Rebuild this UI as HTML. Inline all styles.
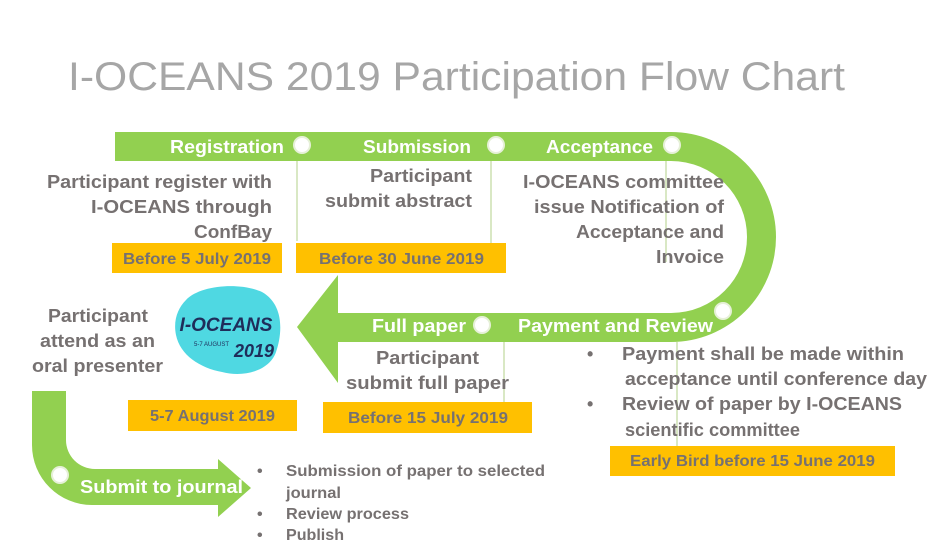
<!DOCTYPE html>
<html><head><meta charset="utf-8"><style>
html,body{margin:0;padding:0;background:#fff;}
svg{display:block;}
text{font-family:"Liberation Sans",sans-serif;}
.b{font-weight:bold;fill:#767171;font-size:18px;}
.w{font-weight:bold;fill:#fff;font-size:18px;}
.s{font-weight:bold;fill:#767171;font-size:16px;}
</style></head><body>
<svg width="948" height="552" viewBox="0 0 948 552" xmlns="http://www.w3.org/2000/svg">
<rect width="948" height="552" fill="#fff"/>
<text x="68" y="90" font-size="40" fill="#a6a6a6" textLength="777" lengthAdjust="spacingAndGlyphs">I-OCEANS 2019 Participation Flow Chart</text>

<path d="M115 132 H671 A105 105 0 0 1 671 342 H338 V383 L297 327 L338 275 V313 H671 A76 76 0 0 0 671 161 H115 Z" fill="#92d050"/>
<g stroke="#d9e8c4" stroke-width="2">
<line x1="297" y1="161" x2="297" y2="241"/>
<line x1="491" y1="161" x2="491" y2="243"/>
<line x1="666" y1="161" x2="666" y2="262"/>
<line x1="504" y1="342" x2="504" y2="402"/>
<line x1="677" y1="342" x2="677" y2="446"/>
</g>
<g fill="#fff" stroke="#e6f0d8" stroke-width="2">
<circle cx="302" cy="145" r="8"/>
<circle cx="496" cy="145" r="8"/>
<circle cx="672" cy="145" r="8"/>
<circle cx="482" cy="325" r="8"/>
<circle cx="723" cy="311" r="8"/>
</g>
<text class="w" x="170" y="153" textLength="114" lengthAdjust="spacingAndGlyphs">Registration</text>
<text class="w" x="363" y="153" textLength="108" lengthAdjust="spacingAndGlyphs">Submission</text>
<text class="w" x="546" y="153" textLength="107" lengthAdjust="spacingAndGlyphs">Acceptance</text>
<text class="w" x="372" y="332" textLength="94" lengthAdjust="spacingAndGlyphs">Full paper</text>
<text class="w" x="518" y="332" textLength="195" lengthAdjust="spacingAndGlyphs">Payment and Review</text>

<g fill="#ffc000">
<rect x="112" y="243" width="170" height="30"/>
<rect x="296" y="243" width="210" height="30"/>
<rect x="128" y="400" width="169" height="31"/>
<rect x="323" y="402" width="209" height="31"/>
<rect x="610" y="446" width="285" height="30"/>
</g>
<text class="s" x="123" y="264" textLength="148" lengthAdjust="spacingAndGlyphs">Before 5 July 2019</text>
<text class="s" x="319" y="264" textLength="165" lengthAdjust="spacingAndGlyphs">Before 30 June 2019</text>
<text class="s" x="150" y="421" textLength="125" lengthAdjust="spacingAndGlyphs">5-7 August 2019</text>
<text class="s" x="348" y="423" textLength="160" lengthAdjust="spacingAndGlyphs">Before 15 July 2019</text>
<text class="s" x="630" y="466" textLength="245" lengthAdjust="spacingAndGlyphs">Early Bird before 15 June 2019</text>

<text class="b" x="47" y="188" textLength="225" lengthAdjust="spacingAndGlyphs">Participant register with</text>
<text class="b" x="91" y="213" textLength="181" lengthAdjust="spacingAndGlyphs">I-OCEANS  through</text>
<text class="b" x="194" y="238" textLength="78" lengthAdjust="spacingAndGlyphs">ConfBay</text>
<text class="b" x="370" y="182" textLength="102" lengthAdjust="spacingAndGlyphs">Participant</text>
<text class="b" x="325" y="207" textLength="147" lengthAdjust="spacingAndGlyphs">submit abstract</text>
<text class="b" x="523" y="188" textLength="201" lengthAdjust="spacingAndGlyphs">I-OCEANS committee</text>
<text class="b" x="534" y="213" textLength="190" lengthAdjust="spacingAndGlyphs">issue Notification of</text>
<text class="b" x="576" y="238" textLength="148" lengthAdjust="spacingAndGlyphs">Acceptance and</text>
<text class="b" x="656" y="263" textLength="68" lengthAdjust="spacingAndGlyphs">Invoice</text>

<text class="b" x="48" y="322" textLength="100" lengthAdjust="spacingAndGlyphs">Participant</text>
<text class="b" x="40" y="347" textLength="115" lengthAdjust="spacingAndGlyphs">attend as an</text>
<text class="b" x="32" y="372" textLength="131" lengthAdjust="spacingAndGlyphs">oral presenter</text>
<text class="b" x="376" y="364" textLength="103" lengthAdjust="spacingAndGlyphs">Participant</text>
<text class="b" x="346" y="389" textLength="163" lengthAdjust="spacingAndGlyphs">submit full paper</text>

<text class="b" x="587" y="360">•</text>
<text class="b" x="622" y="360" textLength="282" lengthAdjust="spacingAndGlyphs">Payment shall be made within</text>
<text class="b" x="625" y="385" textLength="302" lengthAdjust="spacingAndGlyphs">acceptance until conference day</text>
<text class="b" x="587" y="410">•</text>
<text class="b" x="622" y="410" textLength="280" lengthAdjust="spacingAndGlyphs">Review of paper by I-OCEANS</text>
<text class="b" x="625" y="436" textLength="175" lengthAdjust="spacingAndGlyphs">scientific committee</text>

<path d="M186 300 C200 285 240 282 262 292 C285 305 282 335 276 352 C270 370 245 378 222 372 C200 368 180 355 176 335 C173 320 178 308 186 300 Z" fill="#4fd8e2"/>
<text x="226" y="331" text-anchor="middle" font-size="19" font-weight="bold" fill="#1f2d5a" font-style="italic">I-OCEANS</text>
<text x="254" y="357" text-anchor="middle" font-size="18" font-weight="bold" fill="#1f2d5a" font-style="italic">2019</text>
<text x="194" y="346" font-size="6" fill="#1f2d5a">5-7 AUGUST</text>

<path d="M32 391 H66 V440 A29 29 0 0 0 95 469 H218 V459 L251 488 L218 517 V505 H92 A60 60 0 0 1 32 445 Z" fill="#92d050"/>
<circle cx="60" cy="475" r="8" fill="#fff" stroke="#e6f0d8" stroke-width="2"/>
<text class="w" x="80" y="493" textLength="163" lengthAdjust="spacingAndGlyphs">Submit to journal</text>

<text class="s" x="257" y="476" font-size="15">•</text>
<text class="s" x="286" y="476" font-size="15" textLength="259" lengthAdjust="spacingAndGlyphs">Submission of paper to selected</text>
<text class="s" x="286" y="498" font-size="15" textLength="55" lengthAdjust="spacingAndGlyphs">journal</text>
<text class="s" x="257" y="519" font-size="15">•</text>
<text class="s" x="286" y="519" font-size="15" textLength="123" lengthAdjust="spacingAndGlyphs">Review process</text>
<text class="s" x="257" y="540" font-size="15">•</text>
<text class="s" x="286" y="540" font-size="15" textLength="58" lengthAdjust="spacingAndGlyphs">Publish</text>
</svg>
</body></html>
